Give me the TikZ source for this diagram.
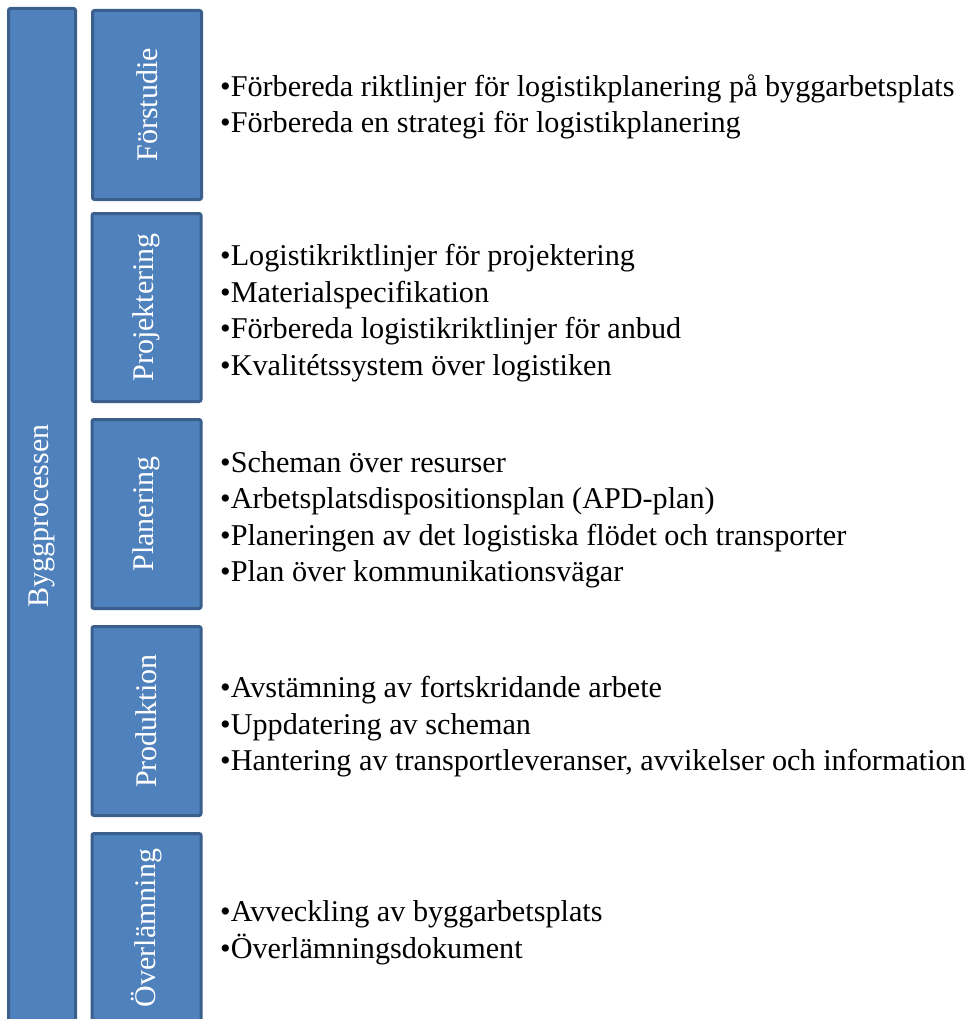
\documentclass[tikz,border=0pt]{standalone}
\usepackage{fontspec}
\setmainfont{Liberation Serif}
\usetikzlibrary{positioning}

\definecolor{boxfill}{HTML}{4F81BD}
\definecolor{boxline}{HTML}{3A5F8C}

\begin{document}
\begin{tikzpicture}[x=1pt,y=-1pt]

    \tikzset{
      phase/.style={
        draw=boxline,
        fill=boxfill,
        line width=3pt,
        rounded corners=2pt,
        rotate=90,
        text=white,
        inner sep=0pt,
        font=\fontsize{30}{34}\selectfont,
      },
      items/.style={
        anchor=west,
        align=left,
        inner sep=0pt,
        font=\fontsize{30.2}{36.5}\selectfont,
      },
    }
    \useasboundingbox (0,0) rectangle (973,1019);
    \clip (0,0) rectangle (973,1019);

	% hela processen
	\node[phase, minimum width=1015, minimum height=67] (bygg) at (42,516) {Byggprocessen};

	% faserna
	\node[phase, minimum width=189, minimum height=109] (forstudie) at (147,105) {Förstudie};
	\node[phase, minimum width=188, minimum height=109] (projektering) at (146.5,307.5) {Projektering};
	\node[phase, minimum width=189, minimum height=109] (planering) at (146.5,514) {Planering};
	\node[phase, minimum width=189, minimum height=109] (produktion) at (146.5,721) {Produktion};
	\node[phase, minimum width=189, minimum height=109] (overlamning) at (146.5,928) {Överlämning};

	% aktiviteter
	\node[items] (forstudielist) at (220,107) {%
	  •Förbereda riktlinjer för logistikplanering på byggarbetsplats\\
	  •Förbereda en strategi för logistikplanering};
	\node[items] (projekteringlist) at (220,313) {%
	  •Logistikriktlinjer för projektering\\
	  •Materialspecifikation\\
	  •Förbereda logistikriktlinjer för anbud\\
	  •Kvalitétssystem över logistiken};
	\node[items] (planeringlist) at (220,520) {%
	  •Scheman över resurser\\
	  •Arbetsplatsdispositionsplan (APD-plan)\\
	  •Planeringen av det logistiska flödet och transporter\\
	  •Plan över kommunikationsvägar};
	\node[items] (produktionlist) at (220,727) {%
	  •Avstämning av fortskridande arbete\\
	  •Uppdatering av scheman\\
	  •Hantering av transportleveranser, avvikelser och information};
	\node[items] (overlamninglist) at (220,933) {%
	  •Avveckling av byggarbetsplats\\
	  •Överlämningsdokument};

\end{tikzpicture}
\end{document}
